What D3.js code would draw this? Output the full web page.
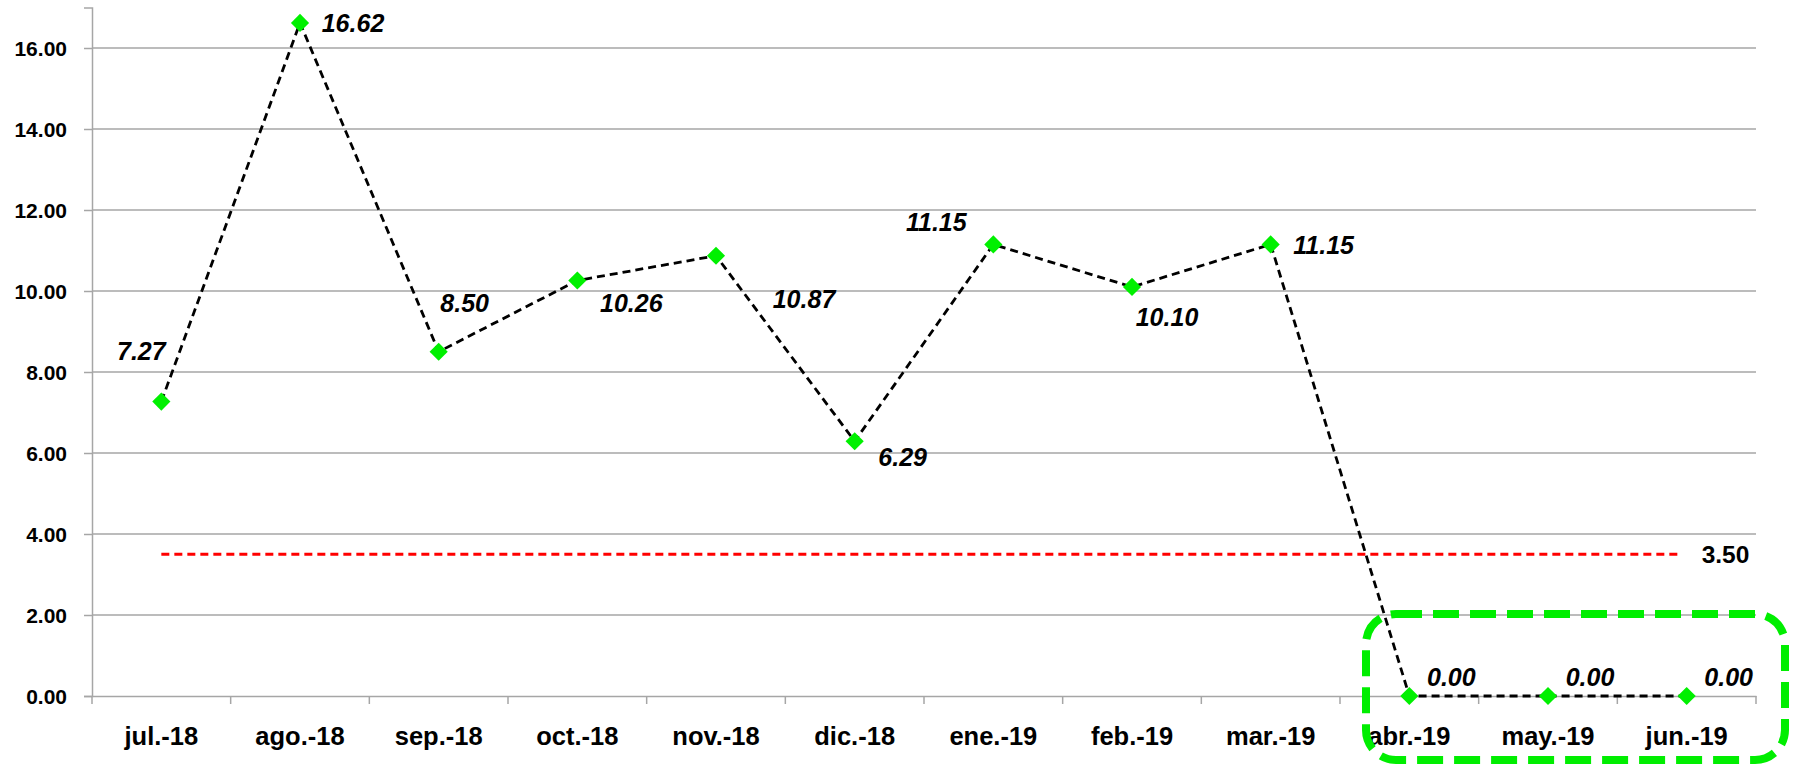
<!DOCTYPE html>
<html>
<head>
<meta charset="utf-8">
<script src="https://cdn.jsdelivr.net/npm/d3@7"></script>
<style>
  html, body { margin: 0; padding: 0; background: #ffffff; }
  svg { display: block; }
  text { font-family: "Liberation Sans", Arial, sans-serif; font-weight: bold; fill: #000; }
</style>
</head>
<body>
<svg id="chart" width="1801" height="767"></svg>
<script>
// ---- data ----
const categories = ["jul.-18","ago.-18","sep.-18","oct.-18","nov.-18","dic.-18","ene.-19","feb.-19","mar.-19","abr.-19","may.-19","jun.-19"];
const values = [7.27, 16.62, 8.50, 10.26, 10.87, 6.29, 11.15, 10.10, 11.15, 0.00, 0.00, 0.00];
const referenceValue = 3.50;
const yTicks = [0, 2, 4, 6, 8, 10, 12, 14, 16];
const highlighted = ["abr.-19","may.-19","jun.-19"];

// ---- label placement (style config, pixels relative to point) ----
const labelOffsets = [[-20,-50],[53,0],[26,-49],[54,23],[88,43],[48,16],[-57,-22],[35,30],[53,1],[42,-19],[42,-19],[42,-19]];

const svg = d3.select("#chart");
const W = 1801, H = 767;
const m = {left: 92, right: 45, top: 7.5, bottom: 71};

const x = d3.scaleBand().domain(categories).range([m.left, W - m.right]).padding(0);
const y = d3.scaleLinear().domain([0, 17]).range([H - m.bottom, m.top]);
const cx = d => x(d) + x.bandwidth() / 2;

const gridColor = "#a6a6a6";

// gridlines
svg.append("g").selectAll("line").data(yTicks.filter(t => t > 0)).join("line")
  .attr("x1", m.left).attr("x2", W - m.right)
  .attr("y1", d => y(d)).attr("y2", d => y(d))
  .attr("stroke", gridColor).attr("stroke-width", 1.5);

// y axis
const yAxis = svg.append("g").attr("transform", `translate(${m.left},0)`)
  .call(d3.axisLeft(y).tickValues(yTicks).tickSize(8).tickPadding(17).tickFormat(d3.format(".2f")));
yAxis.select(".domain").attr("stroke", gridColor).attr("stroke-width", 1.5);
yAxis.selectAll(".tick line").attr("stroke", gridColor).attr("stroke-width", 1.5);
yAxis.selectAll(".tick text").attr("font-size", 21).attr("font-family", "Liberation Sans, Arial, sans-serif")
  .attr("font-weight", "bold").attr("fill", "#000").attr("dy", "0.36em");

// x axis
const xAxis = svg.append("g").attr("transform", `translate(0,${y(0)})`)
  .call(d3.axisBottom(x).tickSize(0).tickPadding(0));
xAxis.select(".domain").attr("stroke", gridColor).attr("stroke-width", 1.5);
xAxis.selectAll(".tick text").attr("font-size", 25.5).attr("font-family", "Liberation Sans, Arial, sans-serif")
  .attr("font-weight", "bold").attr("fill", "#000").attr("dy", null).attr("y", 49);
// x tick marks at band boundaries
const bounds = categories.map(c => x(c)).concat([W - m.right]);
svg.append("g").selectAll("line").data(bounds).join("line")
  .attr("x1", d => d).attr("x2", d => d)
  .attr("y1", y(0)).attr("y2", y(0) + 8)
  .attr("stroke", gridColor).attr("stroke-width", 1.5);

// reference line
svg.append("line")
  .attr("x1", cx(categories[0])).attr("x2", cx(categories[categories.length - 1]) - 5)
  .attr("y1", y(referenceValue)).attr("y2", y(referenceValue))
  .attr("stroke", "#ff0000").attr("stroke-width", 2.8).attr("stroke-dasharray", "8,5");
svg.append("text")
  .attr("x", cx(categories[categories.length - 1]) + 15)
  .attr("y", y(referenceValue) + 8.5)
  .attr("font-size", 24.5)
  .text(d3.format(".2f")(referenceValue));

// series line
const pts = categories.map((c, i) => ({c, v: values[i], i}));
svg.append("path").datum(pts)
  .attr("fill", "none").attr("stroke", "#000").attr("stroke-width", 2.8)
  .attr("stroke-dasharray", "8,5")
  .attr("d", d3.line().x(d => cx(d.c)).y(d => y(d.v)));

// markers
svg.append("g").selectAll("path").data(pts).join("path")
  .attr("transform", d => `translate(${cx(d.c)},${y(d.v)}) rotate(45)`)
  .attr("d", d3.symbol().type(d3.symbolSquare).size(165))
  .attr("fill", "#00f000");

// data labels
svg.append("g").selectAll("text").data(pts).join("text")
  .attr("x", d => cx(d.c) + labelOffsets[d.i][0])
  .attr("y", d => y(d.v) + labelOffsets[d.i][1] + 8.8)
  .attr("text-anchor", "middle")
  .attr("font-size", 25).attr("font-style", "italic")
  .text(d => d3.format(".2f")(d.v));

// highlight box around the last months
const hx0 = x(highlighted[0]) + 26;
const hx1 = W - m.right + 29;
const hy0 = y(2) - 1;
const hy1 = H - 7;
svg.append("rect")
  .attr("x", hx0).attr("y", hy0).attr("width", hx1 - hx0).attr("height", hy1 - hy0)
  .attr("rx", 30).attr("ry", 30)
  .attr("fill", "none").attr("stroke", "#00ee00").attr("stroke-width", 8)
  .attr("stroke-dasharray", "26,11");
</script>
</body>
</html>
